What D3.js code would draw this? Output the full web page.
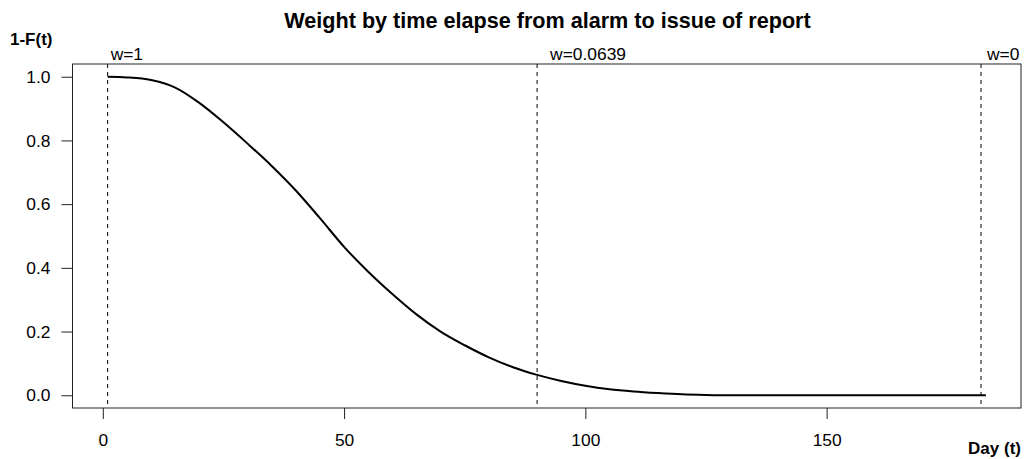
<!DOCTYPE html>
<html>
<head>
<meta charset="utf-8">
<script src="https://cdn.jsdelivr.net/npm/d3@7"></script>
<style>
	body { margin: 0; background: #fff; }
	svg text { font-family: "Liberation Sans", Arial, sans-serif; fill: #000; }
</style>
</head>
<body>
<div id="graph"></div>
<script>
// survival curve 1-F(t)
var days = [1, 5, 10, 13, 15, 20, 25, 30, 35, 40, 45, 50, 55, 60, 65, 70, 75, 80, 85, 90,
	95, 100, 105, 110, 115, 120, 125, 130, 140, 150, 160, 170, 183];
var surv = [1.000, 0.998, 0.990, 0.978, 0.966, 0.918, 0.857, 0.790, 0.720, 0.643, 0.556,
	0.466, 0.388, 0.318, 0.254, 0.200, 0.157, 0.119, 0.088, 0.064, 0.045, 0.030, 0.019,
	0.012, 0.007, 0.003, 0.001, 0.000, 0.000, 0.000, 0.000, 0.000, 0.000];

// vertical reference lines and their labels
var mark_days = [1, 90, 182];
var mark_labels = ["w=1", "w=0.0639", "w=0"];
var mark_shift = [3, 13, 6];	// label offset from line (px)

var x_ticks = [0, 50, 100, 150];
var y_ticks = [0, 0.2, 0.4, 0.6, 0.8, 1.0];

var title = "Weight by time elapse from alarm to issue of report";
var x_label = "Day (t)";
var y_label = "1-F(t)";

var total_w = 1025, total_h = 459;
var margin = {top: 64, right: 4, bottom: 51, left: 72.5};
var width = total_w - margin.left - margin.right;
var height = total_h - margin.top - margin.bottom;

// R style 4% padding on the data range
var x_span = 183 - 1;
var scale_x = d3.scaleLinear()
	.range([0, width])
	.domain([1 - 0.04 * x_span, 183 + 0.04 * x_span]);
var scale_y = d3.scaleLinear()
	.range([height, 0])
	.domain([-0.04, 1.04]);

var svg = d3.select("#graph").append("svg")
	.attr("width", total_w)
	.attr("height", total_h);

var g = svg.append("g")
	.attr("transform", "translate(" + margin.left + "," + margin.top + ")");

// dashed markers
mark_days.forEach(function(d, i) {
	g.append("line")
		.attr("x1", scale_x(d))
		.attr("x2", scale_x(d))
		.attr("y1", 0)
		.attr("y2", height)
		.style("stroke", "#000")
		.style("stroke-width", 1)
		.style("stroke-dasharray", "4,4");
	g.append("text")
		.attr("x", scale_x(d) + mark_shift[i])
		.attr("y", -4)
		.style("font-size", "17.4px")
		.text(mark_labels[i]);
});

// curve
var line = d3.line()
	.curve(d3.curveMonotoneX)
	.x(function(d, i) { return scale_x(days[i]); })
	.y(function(d) { return scale_y(d); });

g.append("path")
	.attr("fill", "none")
	.attr("stroke", "#000")
	.attr("stroke-width", 2)
	.attr("d", line(surv));

// box
g.append("rect")
	.attr("x", 0)
	.attr("y", 0)
	.attr("width", width)
	.attr("height", height)
	.attr("fill", "none")
	.attr("stroke", "#222")
	.attr("stroke-width", 1);

// axes
var x_axis = g.append("g")
	.attr("transform", "translate(0," + height + ")")
	.call(d3.axisBottom(scale_x).tickValues(x_ticks).tickSize(11).tickPadding(15));
var y_axis = g.append("g")
	.call(d3.axisLeft(scale_y).tickValues(y_ticks).tickFormat(d3.format(".1f")).tickSize(11).tickPadding(11));

[x_axis, y_axis].forEach(function(a) {
	a.select(".domain").remove();
	a.selectAll("line").attr("stroke", "#222");
	a.selectAll("text")
		.style("font-family", "\"Liberation Sans\", Arial, sans-serif")
		.style("font-size", "17.4px")
		.attr("fill", "#000");
});

// titles
svg.append("text")
	.attr("x", 547.5)
	.attr("y", 28)
	.style("text-anchor", "middle")
	.style("font-weight", "bold")
	.style("font-size", "21.6px")
	.text(title);

svg.append("text")
	.attr("x", 10)
	.attr("y", 45)
	.style("font-weight", "bold")
	.style("font-size", "17px")
	.text(y_label);

svg.append("text")
	.attr("x", 1021)
	.attr("y", 454)
	.style("text-anchor", "end")
	.style("font-weight", "bold")
	.style("font-size", "17px")
	.text(x_label);
</script>
</body>
</html>
